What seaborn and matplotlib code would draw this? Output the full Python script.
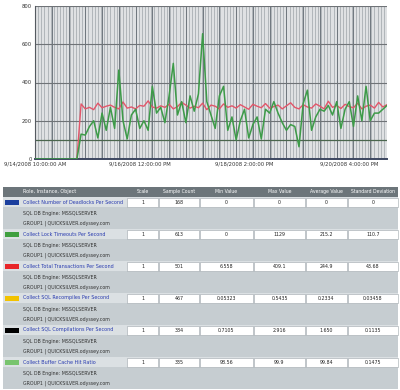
import pandas as pd
import numpy as np
import seaborn as sns
import matplotlib.pyplot as plt
from matplotlib.patches import Rectangle

# chart series, one sample every 2 hours from 9/14/2008 10:00 AM
start = pd.Timestamp('2008-09-14 10:00')
lock_timeouts = [0, 0, 0, 0, 0, 0, 0, 0, 0, 0, 0,
                 130, 125, 170, 200, 110, 240, 150, 270, 160, 465,
                 200, 105, 230, 260, 160, 200, 150, 380, 240, 270,
                 190, 330, 500, 230, 300, 190, 330, 250, 340, 655,
                 300, 230, 160, 330, 380, 150, 220, 100, 200, 260,
                 110, 180, 220, 105, 260, 240, 300, 240, 190, 150,
                 180, 170, 64, 290, 360, 150, 220, 260, 250, 280,
                 230, 300, 160, 260, 300, 170, 330, 200, 380, 200,
                 240, 240, 260, 280]
total_transactions = [0, 0, 0, 0, 0, 0, 0, 0, 0, 0, 0,
                      288, 262, 270, 258, 292, 268, 276, 282, 270, 262,
                      298, 266, 272, 262, 280, 276, 304, 272, 266, 278,
                      270, 286, 262, 274, 296, 282, 266, 276, 268, 292,
                      258, 282, 276, 262, 288, 270, 278, 266, 284, 272,
                      260, 286, 276, 268, 290, 266, 274, 282, 262, 278,
                      294, 270, 262, 284, 272, 266, 288, 276, 262, 302,
                      270, 280, 264, 286, 274, 268, 292, 262, 276, 282,
                      266, 296, 272, 284]
times = pd.date_range(start, periods=len(lock_timeouts), freq='2h')
y_ticks = [0, 200, 400, 600, 800]
threshold = 100
x_ticklabels = ['9/14/2008 10:00:00 AM', '9/16/2008 12:00:00 PM',
                '9/18/2008 2:00:00 PM', '9/20/2008 4:00:00 PM']

# statistics table
headers = ['Role, Instance, Object', 'Scale', 'Sample Count', 'Min Value',
           'Max Value', 'Average Value', 'Standard Deviation']
objects = ['Collect Number of Deadlocks Per Second', 'Collect Lock Timeouts Per Second',
           'Collect Total Transactions Per Second', 'Collect SQL Recompiles Per Second',
           'Collect SQL Compilations Per Second', 'Collect Buffer Cache Hit Ratio']
swatches = ['#1b3f9e', '#3f9f3f', '#e8262a', '#f2c200', '#000000', '#78c46e']
scales = ['1', '1', '1', '1', '1', '1']
sample_counts = ['168', '613', '501', '467', '384', '335']
min_values = ['0', '0', '6.558', '0.05323', '0.7105', '98.56']
max_values = ['0', '1129', '409.1', '0.5435', '2.916', '99.9']
avg_values = ['0', '215.2', '244.9', '0.2334', '1.650', '99.84']
std_values = ['0', '110.7', '43.68', '0.03458', '0.1135', '0.1475']
instance = 'SQL DB Engine: MSSQLSERVER'
group = 'GROUP1 | QUICKSILVER.odyssey.com'

df = pd.DataFrame({'time': times, 'Lock Timeouts': lock_timeouts,
                   'Total Transactions': total_transactions})

sns.set_style('white')
plt.rcParams['font.family'] = ['DejaVu Sans']
fig = plt.figure(figsize=(4, 3.9), dpi=100)

# ---- table (drawn in pixel coordinates) ----
tax = fig.add_axes([0, 0, 1, 1])
tax.set_xlim(0, 400)
tax.set_ylim(390, 0)
tax.axis('off')
tax.patch.set_alpha(0)

col_edges = [(20, 126), (127, 158), (159, 199), (200, 253), (254, 305), (306, 347), (348, 398)]
tax.add_patch(Rectangle((3, 187), 395, 202, color='#c6cdd1', lw=0))
tax.add_patch(Rectangle((3, 187), 395, 9.5, color='#6c757a', lw=0))
for k, (a, b) in enumerate(col_edges):
    if k == 0:
        tax.text(a + 3, 191.8, headers[k], fontsize=3.5, color='white', va='center')
    else:
        tax.text((a + b) / 2, 191.8, headers[k], fontsize=3.3, color='white',
                 va='center', ha='center')

for i, name in enumerate(objects):
    y0 = 197 + 32 * i
    tax.add_patch(Rectangle((3, y0), 395, 10, color='#dbe0e3', lw=0))
    tax.add_patch(Rectangle((5, y0 + 2.5), 14, 5, color=swatches[i], lw=0))
    tax.text(23, y0 + 5, name, fontsize=3.5, color='#2a3cb0', va='center')
    vals = [scales[i], sample_counts[i], min_values[i], max_values[i], avg_values[i], std_values[i]]
    for (a, b), v in zip(col_edges[1:], vals):
        tax.add_patch(Rectangle((a, y0 + 0.5), b - a, 9.5, facecolor='white',
                                edgecolor='#9ea7ab', lw=0.4))
        tax.text((a + b) / 2, y0 + 5.3, v, fontsize=3.4, color='#222222',
                 va='center', ha='center')
    tax.text(23, y0 + 17, instance, fontsize=3.4, color='#333333', va='center')
    tax.text(23, y0 + 26, group, fontsize=3.4, color='#333333', va='center')

# ---- chart ----
ax = fig.add_axes([35 / 400, (390 - 159) / 390, 352 / 400, 153 / 390])
ax.set_facecolor('#dfe1e3')
end = start + pd.Timedelta(hours=168)
minor = pd.date_range(start, end, freq='90min')
major = pd.date_range(start, end, freq='8h')
for t in minor:
    ax.axvline(t, color='#a3a9ae', lw=0.55, zorder=0)
for t in major:
    ax.axvline(t, color='#6f777e', lw=0.7, zorder=0)
for v in y_ticks[1:]:
    ax.axhline(v, color='#6f7377', lw=0.8, zorder=1)
ax.axhline(threshold, color='#4a654d', lw=0.9, zorder=1)

sns.lineplot(data=df, x='time', y='Lock Timeouts', color='#3d9b48', lw=1.1, ax=ax, zorder=3)
sns.lineplot(data=df, x='time', y='Total Transactions', color='#e2566a', lw=1.0, ax=ax, zorder=2)

ax.set_xlim(start, end)
ax.set_ylim(0, 800)
ax.set_yticks(y_ticks)
ax.set_xticks(pd.date_range(start, periods=4, freq='50h'))
ax.set_xticklabels(x_ticklabels)
ax.set_xlabel('')
ax.set_ylabel('')
ax.tick_params(length=0, labelsize=3.8, colors='#333333', pad=2)
ax.grid(False)
for s in ['top', 'right']:
    ax.spines[s].set_visible(False)
ax.spines['left'].set_color('#555a60')
ax.spines['left'].set_linewidth(0.8)
ax.spines['bottom'].set_color('#3c4660')
ax.spines['bottom'].set_linewidth(1.4)

fig.savefig('out.png', dpi=100)
